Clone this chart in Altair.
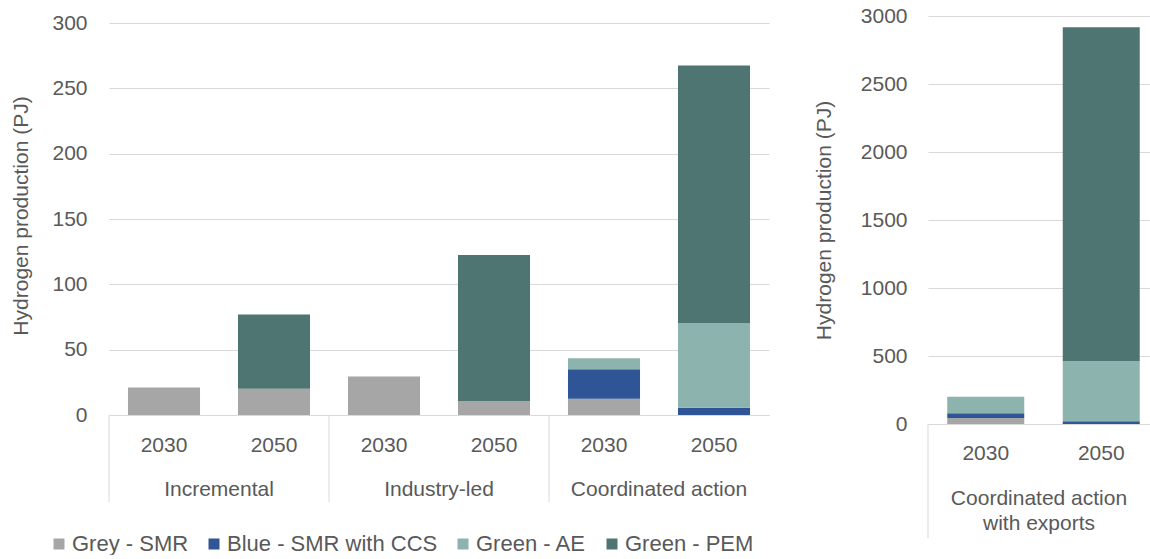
import altair as alt
import pandas as pd

# Hydrogen production by technology (PJ)
scenarios = ["Incremental", "Industry-led", "Coordinated action"]
years = ["2030", "2050"]
technologies = ["Grey - SMR", "Blue - SMR with CCS", "Green - AE", "Green - PEM"]
tech_colors = ["#a6a6a6", "#2f5597", "#8db3ae", "#4e7571"]

# Domestic scenarios: Incremental 2030, 2050, Industry-led 2030, 2050, Coordinated 2030, 2050
grey_smr = [21, 20, 29.5, 10.5, 12.5, 0]
blue_smr_ccs = [0, 0, 0, 0, 22.5, 5.5]
green_ae = [0, 0, 0, 0, 8.5, 65]
green_pem = [0, 57, 0, 112, 0, 197]

# Export scenario: 2030, 2050
export_scenario = "Coordinated action\nwith exports"
export_grey = [44, 0]
export_blue = [35, 20]
export_ae = [122, 443]
export_pem = [0, 2454]

left_ticks = [0, 50, 100, 150, 200, 250, 300]
right_ticks = [0, 500, 1000, 1500, 2000, 2500, 3000]

TEXT = "#595959"
LINE = "#d9d9d9"
FONT = "Liberation Sans"
FS = 21


def stacked_frame(keys, series):
    rows = []
    for i, key in enumerate(keys):
        for j, (tech, vals) in enumerate(zip(technologies, series)):
            rows.append({"key": key, "tech": tech, "order": j, "value": vals[i]})
    return pd.DataFrame(rows)


dom_keys = [f"{s}|{y}" for s in scenarios for y in years]
dom = stacked_frame(dom_keys, [grey_smr, blue_smr_ccs, green_ae, green_pem])
exp_keys = [f"exports|{y}" for y in years]
exp = stacked_frame(exp_keys, [export_grey, export_blue, export_ae, export_pem])

color_scale = alt.Scale(domain=technologies, range=tech_colors)


def x_axis(pad):
    return alt.Axis(
        title=None, labelExpr="split(datum.label, '|')[1]", labelAngle=0,
        labelPadding=pad, ticks=False, tickSize=0, domainColor=LINE,
        labelFontSize=FS, labelColor=TEXT, labelBaseline="top",
    )


def y_axis(values, label_pad, title_pad):
    return alt.Axis(
        values=values, format="d", title="Hydrogen production (PJ)",
        domain=False, ticks=False, tickSize=0, grid=True, gridColor=LINE,
        labelPadding=label_pad, titlePadding=title_pad, labelFontSize=FS,
        labelColor=TEXT, titleFontSize=FS, titleColor=TEXT,
        titleFontWeight="normal",
    )


# ---- Left panel: domestic scenarios ----
W1, H1 = 660, 399
left_bars = alt.Chart(dom).mark_bar().encode(
    x=alt.X("key:N", sort=dom_keys,
            scale=alt.Scale(paddingInner=0.345, paddingOuter=0.1725),
            axis=x_axis(19)),
    y=alt.Y("value:Q", stack="zero",
            scale=alt.Scale(domain=[0, 305.4], nice=False),
            axis=y_axis(left_ticks, 22, 20)),
    color=alt.Color("tech:N", scale=color_scale, sort=technologies,
                    legend=alt.Legend(
                        title=None, orient="none", direction="horizontal",
                        columns=4, legendX=-61, legendY=517,
                        symbolType="square", symbolSize=121,
                        symbolStrokeWidth=0, labelFontSize=22,
                        labelColor=TEXT, labelFont=FONT, labelOffset=2,
                        columnPadding=14, labelLimit=400,
                    )),
    order=alt.Order("order:Q"),
)

groups = pd.DataFrame({"scenario": scenarios})
left_dividers = alt.Chart(groups).transform_window(
    idx="row_number()"
).transform_calculate(pos="2 * (datum.idx - 1)").mark_rule(
    color=LINE, strokeWidth=1
).encode(
    x=alt.X("pos:Q", scale=alt.Scale(domain=[0, 6], nice=False, zero=False), axis=None),
    y=alt.value(H1), y2=alt.value(H1 + 87),
)
left_labels = alt.Chart(groups).transform_window(
    idx="row_number()"
).transform_calculate(pos="2 * datum.idx - 1").mark_text(
    fontSize=FS, color=TEXT, baseline="middle", align="center"
).encode(
    x=alt.X("pos:Q", scale=alt.Scale(domain=[0, 6], nice=False, zero=False), axis=None),
    y=alt.value(H1 + 75),
    text="scenario:N",
)
left = alt.layer(left_bars, left_dividers, left_labels).resolve_scale(
    x="independent"
).properties(width=W1, height=H1)

# ---- Right panel: export scenario ----
W2, H2 = 222, 408
right_bars = alt.Chart(exp).mark_bar().encode(
    x=alt.X("key:N", sort=exp_keys,
            scale=alt.Scale(paddingInner=0.3333, paddingOuter=0.1277, align=0.6525),
            axis=x_axis(18)),
    y=alt.Y("value:Q", stack="zero",
            scale=alt.Scale(domain=[0, 3000], nice=False),
            axis=y_axis(right_ticks, 21, 26)),
    color=alt.Color("tech:N", scale=color_scale, sort=technologies, legend=None),
    order=alt.Order("order:Q"),
)
export_group = pd.DataFrame({"scenario": [export_scenario]})
right_divider = alt.Chart(export_group).transform_calculate(pos="0").mark_rule(
    color=LINE, strokeWidth=1
).encode(
    x=alt.X("pos:Q", scale=alt.Scale(domain=[0, 2], nice=False, zero=False), axis=None),
    y=alt.value(H2), y2=alt.value(H2 + 114),
)
right_label = alt.Chart(export_group).transform_calculate(pos="1").mark_text(
    fontSize=FS, color=TEXT, baseline="middle", align="center",
    lineBreak="\n", lineHeight=25,
).encode(
    x=alt.X("pos:Q", scale=alt.Scale(domain=[0, 2], nice=False, zero=False), axis=None),
    y=alt.value(H2 + 75),
    text="scenario:N",
)
right = alt.layer(right_bars, right_divider, right_label).resolve_scale(
    x="independent"
).properties(width=W2, height=H2)

chart = alt.hconcat(left, right, spacing=44).resolve_legend(
    color="independent"
).configure(
    font=FONT, padding={"left": 10, "top": 5, "right": 0, "bottom": 0}
).configure_view(stroke=None)

chart.save("out.html", embed_options={"renderer": "svg", "actions": False})
